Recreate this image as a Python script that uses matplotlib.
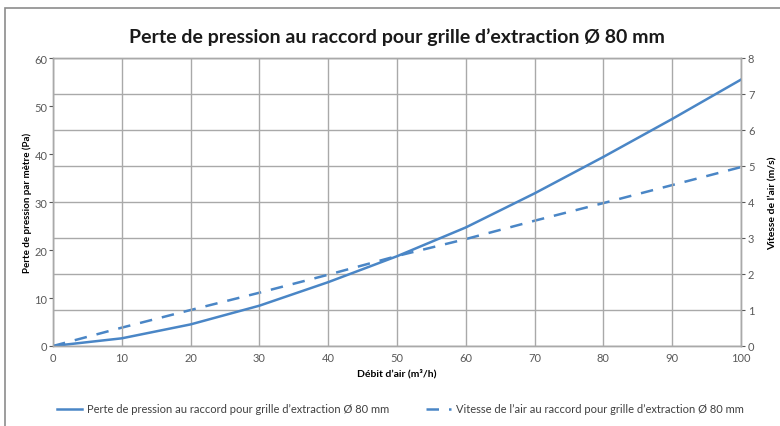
import matplotlib.pyplot as plt
from matplotlib.patches import Rectangle

# air flow (m3/h)
debit = [0, 10, 20, 30, 40, 50, 60, 70, 80, 90, 100]
# pressure loss per metre (Pa)
perte = [0, 1.6, 4.5, 8.4, 13.3, 18.7, 24.7, 31.8, 39.4, 47.3, 55.5]
# air speed (m/s)
vitesse = [0, 0.51, 1.0, 1.48, 1.98, 2.5, 2.97, 3.48, 3.97, 4.47, 4.97]

label_perte = "Perte de pression au raccord pour grille d\u2019extraction \u00d8 80 mm"
label_vitesse = "Vitesse de l\u2019air au raccord pour grille d\u2019extraction \u00d8 80 mm"

plt.rcParams['font.family'] = ['Lato', 'DejaVu Sans']

blue = "#4a86c6"
grid_col = "#a9a9a9"
tick_col = "#595959"

fig = plt.figure(figsize=(7.8, 4.27), dpi=100)
fig.patches.append(Rectangle((5 / 780, -0.1), 1.2, 0.1 + 1 - 9 / 427, transform=fig.transFigure,
                             fill=False, edgecolor="#8c8c8c", linewidth=1.2))

ax = fig.add_axes([53 / 780, 1 - 347 / 427, (741 - 53) / 780, (347 - 59) / 427])
ax2 = ax.twinx()

l1, = ax.plot(debit, perte, color=blue, linewidth=1.8, label=label_perte)
l2, = ax2.plot(debit, vitesse, color=blue, linewidth=1.8, linestyle=(0, (5, 4)), label=label_vitesse)

ax.set_xlim(0, 100)
ax.set_ylim(0, 60)
ax2.set_ylim(0, 8)
ax.set_xticks(range(0, 101, 10))
ax.set_yticks(range(0, 61, 10))
ax2.set_yticks(range(0, 9))

ax.grid(axis='x', color=grid_col, linewidth=1)
ax2.grid(axis='y', color=grid_col, linewidth=1)
ax.set_axisbelow(True)
ax2.set_zorder(ax.get_zorder() - 1)
ax.patch.set_visible(False)

for a in (ax, ax2):
    for s in a.spines.values():
        s.set_color(grid_col)
        s.set_linewidth(1)
    a.tick_params(colors=tick_col, labelsize=8, length=3, width=0.8)
ax.tick_params(axis='x', length=0, pad=4)
ax.tick_params(axis='y', pad=1)
ax2.tick_params(axis='y', pad=2)

ax.set_xlabel("D\u00e9bit d\u2019air (m\u00b3/h)", fontsize=7.5, fontweight='bold', labelpad=4)
ax.set_ylabel("Perte de pression par m\u00e8tre (Pa)", fontsize=7, fontweight='bold', labelpad=2)
ax2.set_ylabel("Vitesse de l\u2019air (m/s)", fontsize=7.5, fontweight='bold', labelpad=10)

fig.text(397 / 780, 1 - 37 / 427, "Perte de pression au raccord pour grille d\u2019extraction \u00d8 80 mm",
         ha='center', va='center', fontsize=14, fontweight='bold', color="#1a1a1a")

fig.legend(handles=[l1, l2], loc='center', bbox_to_anchor=(400 / 780, 1 - 410 / 427), ncol=2,
           frameon=False, fontsize=8, handlelength=2.3, handletextpad=0.4, columnspacing=3.3,
           labelcolor="#404040")

fig.savefig("out.png", dpi=100)
